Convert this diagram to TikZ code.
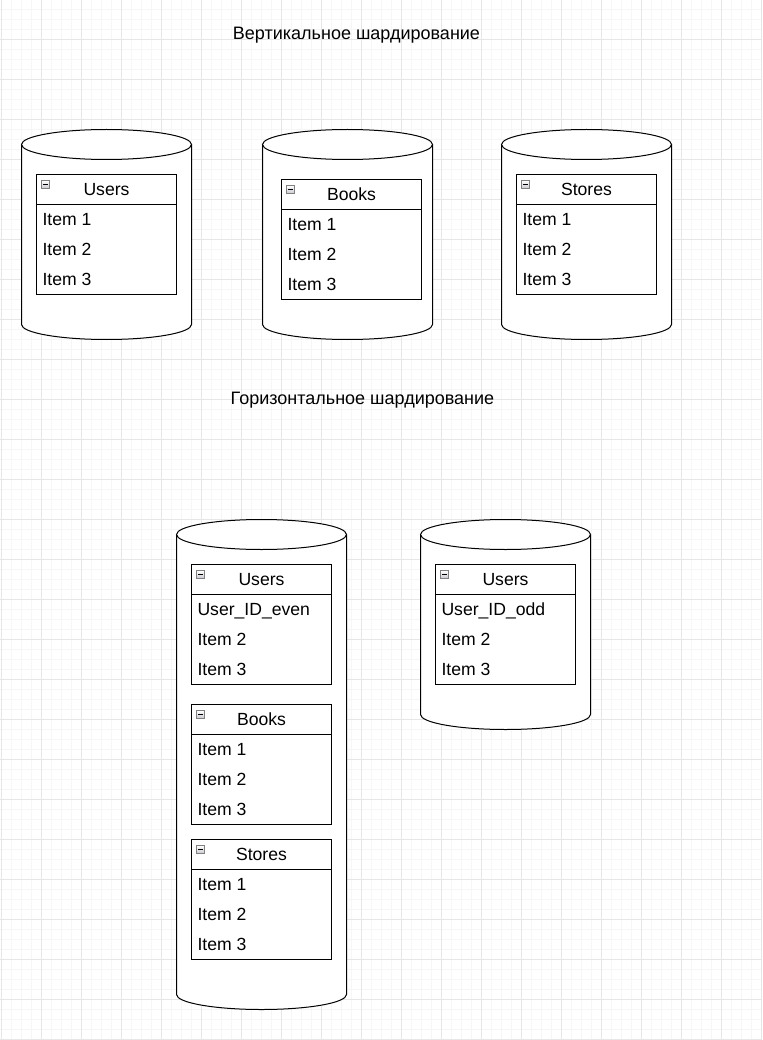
\documentclass[tikz,border=0pt]{standalone}
\usepackage{fontspec}
\setmainfont{Liberation Sans}
\usetikzlibrary{calc}
\definecolor{minorgrid}{HTML}{F6F6F6}
\definecolor{majorgrid}{HTML}{E6E6E6}
\definecolor{iconfill}{HTML}{C8C8D0}
\definecolor{iconline}{HTML}{808080}
\tikzset{
  every node/.style={font=\fontsize{17.6}{21}\selectfont, text=black, outer sep=0pt},
  minorline/.style={draw=minorgrid, line width=1pt},
  majorline/.style={draw=majorgrid, line width=1pt},
  cylbody/.style={draw=black, line width=1pt, fill=white},
  hdrbox/.style={draw=black, line width=1pt, fill=white, minimum width=140pt, minimum height=30pt, inner sep=0pt, anchor=north west},
  bodybox/.style={draw=black, line width=1pt, fill=white, minimum width=140pt, minimum height=90pt, inner sep=0pt, anchor=north west},
  itemtext/.style={anchor=base west, inner sep=0pt},
  hdrtext/.style={anchor=base, inner sep=0pt},
  iconbox/.style={draw=iconline, line width=0.8pt, top color=white, bottom color=iconfill, minimum size=8pt, inner sep=0pt},
  titletext/.style={anchor=base, inner sep=0pt, font=\fontsize{18}{21}\selectfont}
}
% cylinder: x, y (top), w, h
\newcommand{\dbcyl}[4]{%
  \pgfmathsetmacro{\cxl}{#1}%
  \pgfmathsetmacro{\cxr}{#1+#3}%
  \pgfmathsetmacro{\cxm}{#1+#3/2}%
  \pgfmathsetmacro{\cyt}{#2+15}%
  \pgfmathsetmacro{\cyb}{#2+#4-15}%
  \pgfmathsetmacro{\cybb}{#2+#4}%
  \pgfmathsetmacro{\kx}{#3/2*0.5523}%
  \pgfmathsetmacro{\ky}{15*0.5523}%
  \path[cylbody] (\cxl,\cyt) -- (\cxl,\cyb)
    .. controls (\cxl,\cyb+\ky) and (\cxm-\kx,\cybb) .. (\cxm,\cybb)
    .. controls (\cxm+\kx,\cybb) and (\cxr,\cyb+\ky) .. (\cxr,\cyb)
    -- (\cxr,\cyt);
  \draw[line width=1pt, fill=white] (\cxm,\cyt) ellipse [x radius=#3/2, y radius=15];
}
% table: name, x, y, title, item1, item2, item3
\newcommand{\dbtable}[7]{%
  \node[hdrbox] (#1) at (#2,#3) {};
  \node[bodybox] (#1-body) at (#1.south west) {};
  \node[iconbox] (#1-icon) at ({#2+9},{#3+10}) {};
  \draw[line width=0.9pt] ($(#1-icon.center)+(-2.5,0)$) -- ($(#1-icon.center)+(2.5,0)$);
  \node[hdrtext] (#1-title) at ({#2+70},{#3+21}) {#4};
  \node[itemtext] (#1-i1) at ({#2+6},{#3+51.3}) {#5};
  \node[itemtext] (#1-i2) at ({#2+6},{#3+81.3}) {#6};
  \node[itemtext] (#1-i3) at ({#2+6},{#3+111.3}) {#7};
}
\begin{document}
\begin{tikzpicture}[x=1pt, y=-1pt]
\useasboundingbox (0,0) rectangle (762,1040);
\fill[white] (0,0) rectangle (762,1040);
% grid
\foreach \i in {0,...,76} { \draw[minorline] ({1.5+10*\i},0) -- ({1.5+10*\i},1040); }
\foreach \j in {0,...,103} { \draw[minorline] (0,{9.5+10*\j}) -- (762,{9.5+10*\j}); }
\foreach \i in {0,...,19} { \draw[majorline] ({1.5+40*\i},0) -- ({1.5+40*\i},1040); }
\foreach \j in {0,...,25} { \draw[majorline] (0,{39.5+40*\j}) -- (762,{39.5+40*\j}); }

% titles
\node[titletext] (title-v) at (356.5,39.5) {Вертикальное шардирование};
\node[titletext] (title-h) at (362.5,404) {Горизонтальное шардирование};

% vertical sharding
\dbcyl{21.5}{129.5}{170}{210}
\dbcyl{262.5}{129.5}{170}{210}
\dbcyl{501.5}{129.5}{170}{210}
\dbtable{t1}{36.5}{174.5}{Users}{Item 1}{Item 2}{Item 3}
\dbtable{t2}{281.5}{179.5}{Books}{Item 1}{Item 2}{Item 3}
\dbtable{t3}{516.5}{174.5}{Stores}{Item 1}{Item 2}{Item 3}

% horizontal sharding
\dbcyl{176.5}{519.5}{170}{490}
\dbcyl{420.5}{519.5}{170}{210}
\dbtable{t4}{191.5}{564.5}{Users}{User\_ID\_even}{Item 2}{Item 3}
\dbtable{t5}{191.5}{704.5}{Books}{Item 1}{Item 2}{Item 3}
\dbtable{t6}{191.5}{839.5}{Stores}{Item 1}{Item 2}{Item 3}
\dbtable{t7}{435.5}{564.5}{Users}{User\_ID\_odd}{Item 2}{Item 3}
\end{tikzpicture}
\end{document}
